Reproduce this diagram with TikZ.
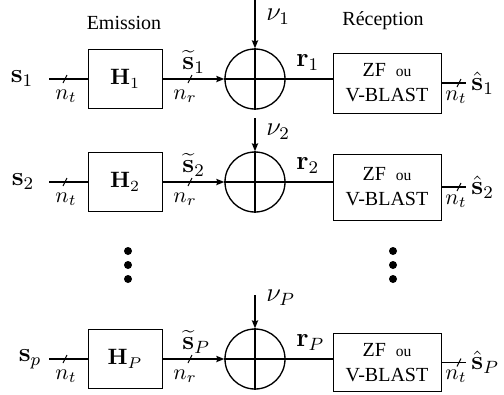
\documentclass[tikz,border=0pt]{standalone}
\usepackage[no-math]{fontspec}
\setmainfont{Liberation Serif}
\usetikzlibrary{arrows.meta,calc}
\begin{document}
\begin{tikzpicture}[x=0.45pt,y=-0.45pt,
  conn/.style={line width=0.6pt},
  arr/.style={conn,-{Stealth[length=3.6pt,width=2.8pt,inset=0.5pt]}},
  hbox/.style={draw,line width=0.45pt,minimum width=33.3pt,minimum height=26.5pt,inner sep=0pt},
  zbox/.style={draw,line width=0.45pt,minimum width=48.6pt,inner sep=0pt,align=center,font=\fontsize{9}{11.25}\selectfont},
  sum/.style={circle,draw,line width=0.6pt,minimum size=27pt,inner sep=0pt},
  lbl/.style={inner sep=0pt,font=\large},
  dimlbl/.style={inner sep=0pt},
  tickmark/.style={line width=0.45pt},
  dotmark/.style={circle,fill,inner sep=0pt,minimum size=3.6pt},
  hdr/.style={font=\fontsize{9}{11}\selectfont,inner sep=0pt}
]
\useasboundingbox (0,0) rectangle (504,394);
\node[hdr] (em) at (124,23) {Emission};
\node[hdr] (re) at (383,21) {Réception};
\foreach \r/\y/\i/\ii/\zc/\zh/\sx/\ny/\nuy in {1/79/1/1/83/27/22/0/17, 2/182/2/2/187/29.7/23/118/132, 3/359/P/p/362.5/26.5/30/295/298}{
  \node[lbl] (s\r) at (\sx,\y) {$\mathbf{s}_{\ii}$};
  \coordinate (a\r) at (49,\y);
  \node[hbox] (H\r) at (125,\y) {$\mathbf{H}_{\i}$};
  \node[sum] (c\r) at (255,\y) {};
  \draw[conn] (c\r.north) -- (c\r.south) (c\r.west) -- (c\r.east);
  \node[zbox,minimum height=\zh pt] (z\r) at (387,\zc) {ZF~~{\fontsize{7}{8}\selectfont ou}\\V-BLAST};
  \coordinate (o\r) at (466,\zc);
  \node[lbl,anchor=west] (e\r) at (471,\zc) {$\hat{\mathbf{s}}_{\i}$};
  \coordinate (n\r) at (255,\ny);
  \node[lbl,anchor=west] (nu\r) at (266,\nuy) {$\nu_{\i}$};
  \node[lbl,anchor=west] (st\r) at (182,\y-17) {$\widetilde{\mathbf{s}}_{\i}$};
  \node[lbl,anchor=west] (r\r) at (296,\y-16) {$\mathbf{r}_{\i}$};
  \node[dimlbl] (nt\r) at (66,\y+17) {$n_t$};
  \node[dimlbl] (nr\r) at (185,\y+17) {$n_r$};
  \node[dimlbl] (no\r) at (456,\zc+14) {$n_t$};
  \draw[conn] (a\r) -- (H\r.west);
  \draw[arr] (H\r.east) -- (c\r.west);
  \draw[arr] (n\r) -- (c\r.north);
  \draw[conn] (c\r.east) -- (c\r.east -| z\r.west);
  \draw[conn] (z\r.east) -- (o\r);
  \draw[tickmark] (65,\y) ++(-2,4) -- ++(4,-8);
  \draw[tickmark] (190,\y) ++(-2,4) -- ++(4,-8);
  \draw[tickmark] (459,\zc) ++(-2,4) -- ++(4,-8);
}
\foreach \x/\s in {128/L,393/R}{
  \foreach \d/\yy in {1/251,2/265,3/279}{
    \node[dotmark] (d\s\d) at (\x,\yy) {};
  }
}
\end{tikzpicture}
\end{document}
